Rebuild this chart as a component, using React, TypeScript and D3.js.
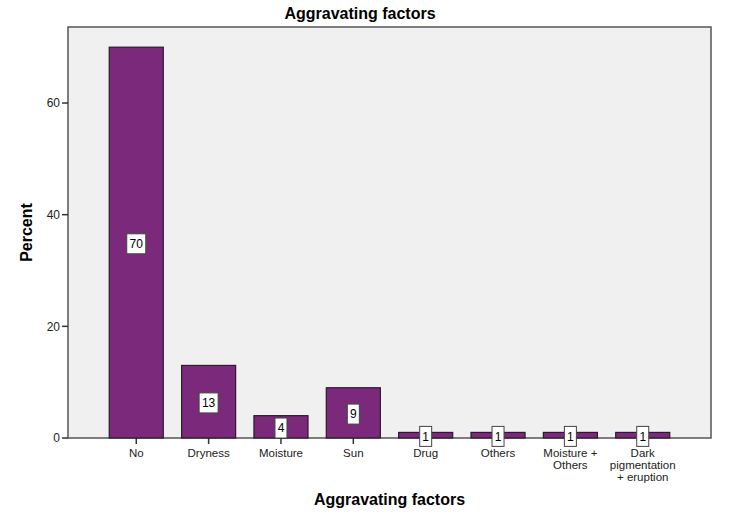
import React from "react";
import * as d3 from "d3";

const categories: string[][] = [
  ["No"],
  ["Dryness"],
  ["Moisture"],
  ["Sun"],
  ["Drug"],
  ["Others"],
  ["Moisture +", "Others"],
  ["Dark", "pigmentation", "+ eruption"],
];
const percents: number[] = [70, 13, 4, 9, 1, 1, 1, 1];
const yTicks: number[] = [0, 20, 40, 60];

const W = 732;
const H = 522;
const left = 68;
const right = 711;
const top = 27;
const bottom = 438;
const font = "'Liberation Sans', Arial, sans-serif";

export default function App() {
  const keys = categories.map((c) => c.join(" "));
  const x = d3
    .scaleBand<string>()
    .domain(keys)
    .range([left, right])
    .paddingInner(0.253)
    .paddingOuter(0.57);
  const y = d3.scaleLinear().domain([0, 70]).range([bottom, bottom - 70 * 5.583]);

  return (
    <svg
      width={W}
      height={H}
      style={{ position: "absolute", left: 0, top: 0, background: "#fff" }}
      fontFamily={font}
    >
      <rect x={0} y={0} width={W} height={H} fill="#fff" />
      <text x={360} y={19} textAnchor="middle" fontSize={16} fontWeight="bold" fill="#000">
        Aggravating factors
      </text>
      <rect x={left} y={top} width={right - left} height={bottom - top} fill="#f0f0f0" stroke="#555" strokeWidth={1.5} />
      {yTicks.map((t) => (
        <g key={t}>
          <line x1={left - 6} x2={left} y1={y(t)} y2={y(t)} stroke="#333" strokeWidth={1.5} />
          <text x={left - 8} y={y(t)} dy="0.35em" textAnchor="end" fontSize={12} fill="#222">
            {t}
          </text>
        </g>
      ))}
      {categories.map((lines, i) => {
        const k = keys[i];
        const cx = x(k)! + x.bandwidth() / 2;
        return (
          <g key={"t" + k}>
            <line x1={cx} x2={cx} y1={bottom} y2={bottom + 6} stroke="#333" strokeWidth={1.5} />
            {lines.map((ln, j) => (
              <text key={j} x={cx} y={457 + j * 12} textAnchor="middle" fontSize={11.5} fill="#222">
                {ln}
              </text>
            ))}
          </g>
        );
      })}
      {percents.map((v, i) => {
        const k = keys[i];
        const bx = x(k)!;
        const bw = x.bandwidth();
        return (
          <rect key={k} x={bx} y={y(v)} width={bw} height={bottom - y(v)} fill="#7b2a7b" stroke="#2a1a2a" strokeWidth={1.2} />
        );
      })}
      {percents.map((v, i) => {
        const k = keys[i];
        const cx = x(k)! + x.bandwidth() / 2;
        const cy = (y(v) + bottom) / 2 + 1.2;
        const label = String(v);
        const bw = label.length === 1 ? 12 : 19;
        return (
          <g key={"l" + k}>
            <rect x={cx - bw / 2} y={cy - 10} width={bw} height={20} fill="#fff" stroke="#444" strokeWidth={1} />
            <text x={cx} y={cy} dy="0.36em" textAnchor="middle" fontSize={12} fill="#000">
              {label}
            </text>
          </g>
        );
      })}
      <text x={(left + right) / 2} y={505} textAnchor="middle" fontSize={16} fontWeight="bold" fill="#000">
        Aggravating factors
      </text>
      <text
        transform={`translate(32, ${(top + bottom) / 2}) rotate(-90)`}
        textAnchor="middle"
        fontSize={16}
        fontWeight="bold"
        fill="#000"
      >
        Percent
      </text>
    </svg>
  );
}
